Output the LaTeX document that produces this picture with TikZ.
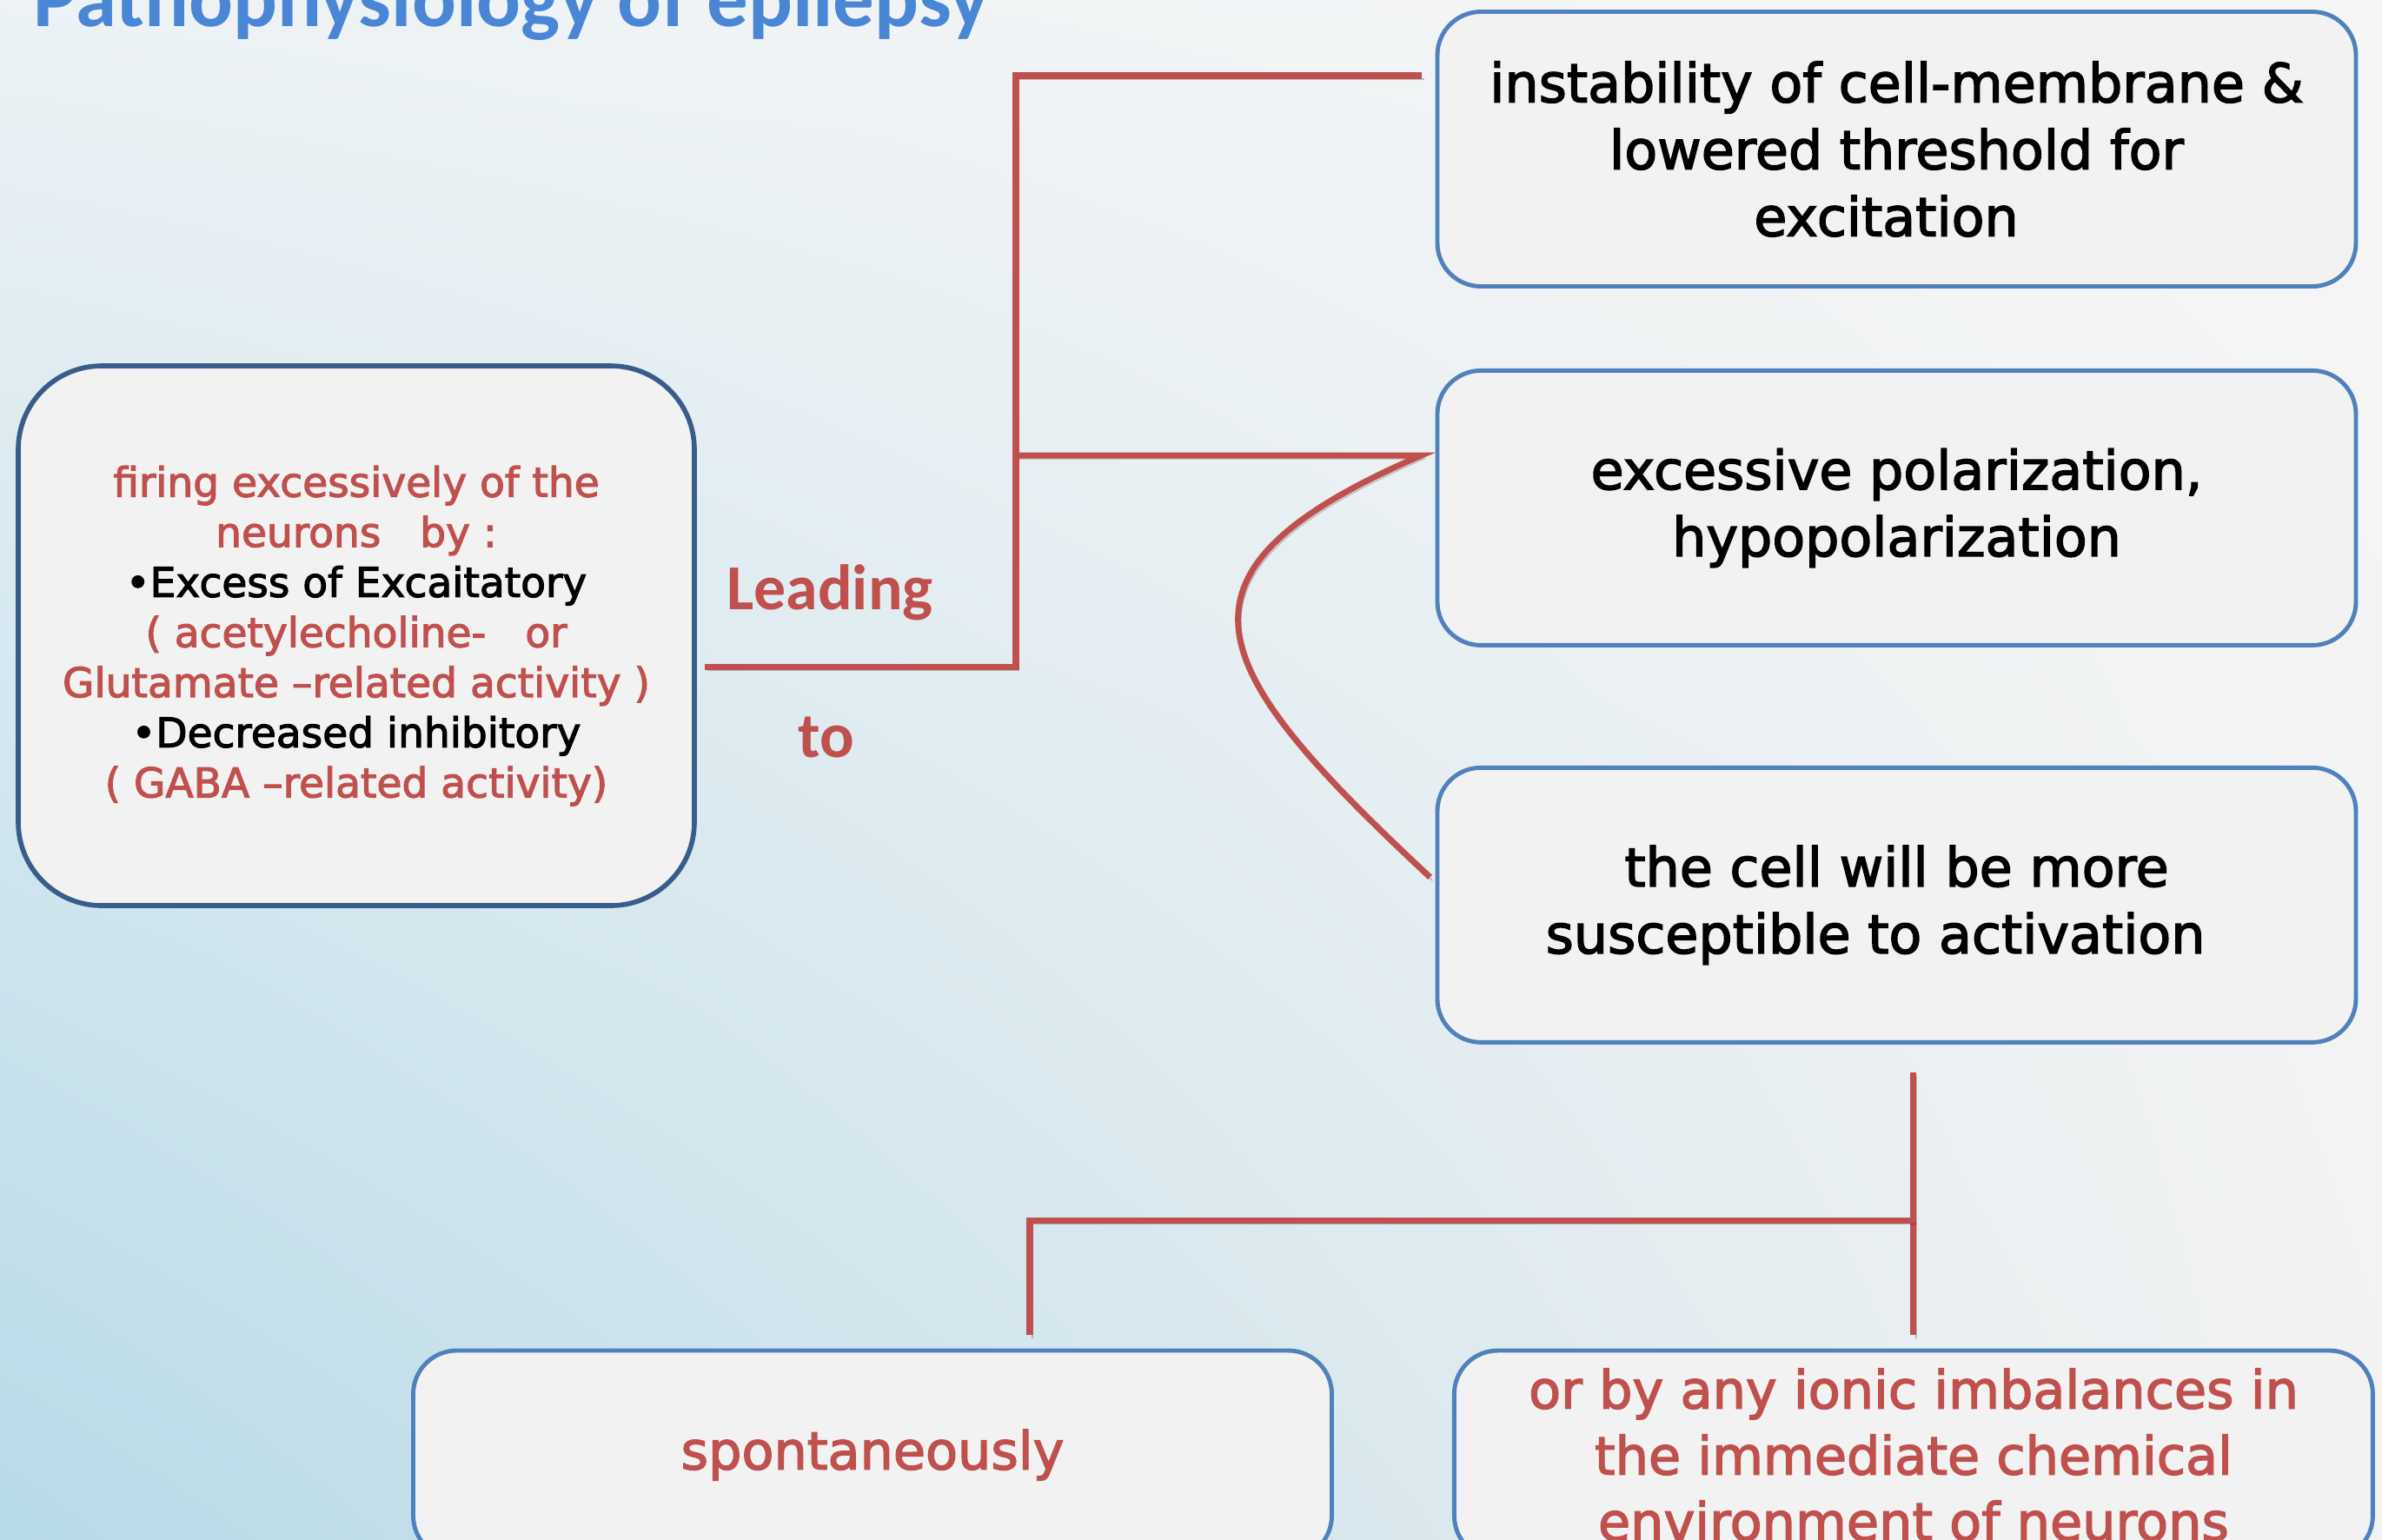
\documentclass[tikz,border=0pt]{standalone}
\usepackage{fontspec}
\setmainfont[FakeBold=2.4]{DejaVu Sans}
\newfontfamily\headfont{Carlito}
\usetikzlibrary{positioning,shadings}
\definecolor{linkred}{RGB}{192,80,77}
\definecolor{boxblue}{RGB}{79,129,189}
\definecolor{boxnavy}{RGB}{56,93,138}
\definecolor{boxfill}{RGB}{242,242,242}
\definecolor{titleblue}{RGB}{74,134,214}
\definecolor{bgul}{RGB}{236,242,245}
\definecolor{bgur}{RGB}{246,246,246}
\definecolor{bgll}{RGB}{183,218,232}
\definecolor{bglr}{RGB}{242,242,242}
\tikzset{rightbox/.style={
    % The shape:
    rectangle, rounded corners=5mm,
    % The size:
    minimum width=105.7mm,
    minimum height=31.6mm,
    % The border:
    line width=1.4pt,
    draw=boxblue,
    % The filling:
    fill=boxfill,
    % Font
    align=center,
    font=\fontsize{17.6}{21.9}\selectfont
    },
    causebox/.style={
    rectangle, rounded corners=9.6mm,
    minimum width=77.8mm,
    minimum height=62.1mm,
    line width=1.6pt,
    draw=boxnavy,
    fill=boxfill,
    text=linkred,
    align=center,
    font=\fontsize{13.4}{16.4}\selectfont
    },
    lowbox/.style={
    rightbox,
    minimum height=24mm,
    text=linkred,
    font=\fontsize{17.2}{21.6}\selectfont
    },
    tag/.style={
    font=\headfont\bfseries\fontsize{21}{25}\selectfont,
    text=linkred,
    },
    link/.style={line width=2pt, draw=linkred,
    preaction={draw=black, opacity=0.22, transform canvas={shift={(0.3mm,-0.4mm)}}}},
}

\begin{document}
\begin{tikzpicture}[node distance = 9.2mm and 13.6mm]
    % background
    \shade[upper left=bgul, upper right=bgur, lower left=bgll, lower right=bglr]
          (0,0) rectangle (27.41,-17.71);
    \useasboundingbox (0,0) rectangle (27.41,-17.71);

    \node (title) [anchor=base west, inner sep=0pt, text=titleblue,
                   font=\headfont\bfseries\fontsize{27}{32}\selectfont] at (0.38,-0.30) {Pathophysiology of epilepsy};

    \node (cause)   [causebox] at (4.10,-7.315) {firing excessively of the\\
        neurons\ \ \ by :\\
        \textcolor{black}{•Excess of Excaitatory}\\
        ( acetylecholine-\ \ \ or\\
        Glutamate –related activity )\\
        \textcolor{black}{•Decreased inhibitory}\\
        ( GABA –related activity)};

    \node (instab)  [rightbox] at (21.825,-1.715) {instability of cell-membrane \&\\ lowered threshold for\\ excitation\rule{2.4mm}{0pt}};
    \node (polar)   [rightbox,below=of instab] {excessive polarization,\\ hypopolarization};
    \node (suscept) [rightbox,below=13.6mm of polar] {the cell will be more\\ susceptible to activation\rule{4.9mm}{0pt}};

    \node (spont)   [lowbox] at (10.04,-16.74) {spontaneously};
    \node (ionic)   [lowbox,right=of spont] {or by any ionic imbalances in\\ the immediate chemical\\ environment of neurons};

    \node (lead) [tag] at (9.55,-6.82) {Leading};
    \node (to)   [tag] at (9.51,-8.48) {to};

    % upper connectors
    \coordinate (fork) at (11.69,-7.67);
    \coordinate (hi)   at (11.69,-0.87);
    \coordinate (lo)   at (11.69,-5.24);
    \draw[link] ([xshift=0.9mm]cause.east |- fork) -- (fork) -- (hi) -- ([xshift=-1.6mm]instab.west |- hi);
    \draw[link] (lo) -- ([xshift=-1.6mm]polar.west |- lo) coordinate (tip)
        .. controls +(-3.15,-1.36) and +(-2.58,2.41) .. ([xshift=-0.6mm,yshift=3.2mm]suscept.west);

    % lower connectors
    \coordinate (bend) at (11.85,-14.04);
    \draw[link] ([yshift=-3.2mm]ionic.north |- suscept.south) -- ([yshift=1.6mm]ionic.north);
    \draw[link] (ionic.north |- bend) -- (bend) -- ([yshift=1.6mm]spont.north -| bend);
\end{tikzpicture}
\end{document}
